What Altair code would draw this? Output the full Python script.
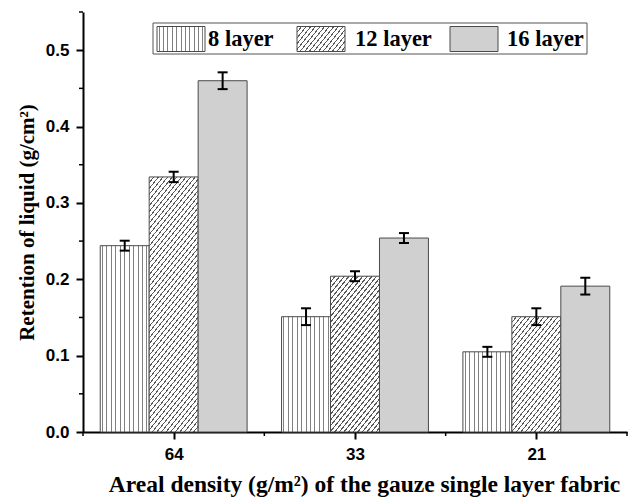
import altair as alt
import pandas as pd

# ---------------- data ----------------
densities = ["64", "33", "21"]
series = ["8 layer", "12 layer", "16 layer"]
vals_8 = [0.244, 0.151, 0.105]
vals_12 = [0.334, 0.204, 0.151]
vals_16 = [0.460, 0.254, 0.191]
err_8 = [0.0065, 0.011, 0.0065]
err_12 = [0.0068, 0.0065, 0.011]
err_16 = [0.011, 0.0065, 0.011]
y_major = [0.0, 0.1, 0.2, 0.3, 0.4, 0.5]
y_minor = [0.05, 0.15, 0.25, 0.35, 0.45, 0.55]
x_minor = [0.5, 1.5, 2.5, 3.5]

# ---------------- layout ----------------
W, H = 544, 420
X_DOM = [0.5, 3.5]
Y_DOM = [0.0, 0.55]
BAR_W = 0.27          # in group units
CAP_HALF = 5 / (W / (X_DOM[1] - X_DOM[0]))
PX_PER_Y = H / (Y_DOM[1] - Y_DOM[0])
BAR_PX = BAR_W * W / (X_DOM[1] - X_DOM[0])

SERIF = "Liberation Serif"
SANS = "Liberation Sans"
EDGE = "#4a4a4a"

rows = []
for s_i, (name, vals, errs) in enumerate(zip(series, [vals_8, vals_12, vals_16], [err_8, err_12, err_16])):
    for g_i, (d, v, e) in enumerate(zip(densities, vals, errs)):
        c = g_i + 1 + (s_i - 1) * BAR_W
        rows.append(dict(series=name, density=d, value=v, err=e, c=c,
                         x0=c - BAR_W / 2, x1=c + BAR_W / 2,
                         lo=v - e, hi=v + e, cl=c - CAP_HALF, cr=c + CAP_HALF))
df = pd.DataFrame(rows)

xs = alt.Scale(domain=X_DOM, nice=False, zero=False)
ys = alt.Scale(domain=Y_DOM, nice=False, zero=False)


def vstripes(w_px, period=4.45, lw=1.0, bg="#ffffff", fg="#808080"):
    n = max(1, round(w_px / period))
    d = lw / w_px / 2
    stops = [{"offset": 0, "color": bg}]
    for k in range(n):
        a = (k + 0.5) / n
        stops += [{"offset": a - d, "color": bg}, {"offset": a - d, "color": fg},
                  {"offset": a + d, "color": fg}, {"offset": a + d, "color": bg}]
    stops.append({"offset": 1, "color": bg})
    return {"gradient": "linear", "x1": 0, "y1": 0, "x2": 1, "y2": 0, "stops": stops}


def dstripes(w_px, h_px, s=1.25, dx=4.6, lw=1.0, bg="#ffffff", fg="#5a5a5a"):
    total = s * w_px + h_px
    lam = total / (s * s * w_px * w_px + h_px * h_px)
    a, b = lam * s * w_px, lam * h_px
    pf = s * dx
    df_ = lw * (s * s + 1) ** 0.5 / total / 2
    stops = [{"offset": 0, "color": bg}]
    k = 1
    while k * pf < total:
        t = k * pf / total
        stops += [{"offset": max(0, t - df_), "color": bg}, {"offset": max(0, t - df_), "color": fg},
                  {"offset": min(1, t + df_), "color": fg}, {"offset": min(1, t + df_), "color": bg}]
        k += 1
    stops.append({"offset": 1, "color": bg})
    return {"gradient": "linear", "x1": 0, "y1": 0, "x2": a, "y2": b, "stops": stops}


DOT = "#d0d0d0"

base = alt.Chart(df)

label_expr = "[" + ",".join("'" + d + "'" for d in densities) + "][round(datum.value) - 1]"

x_axis = alt.Axis(values=[1, 2, 3], labelExpr=label_expr, title="Areal density (g/m²) of the gauze single layer fabric",
                  labelFont=SANS, labelFontWeight="bold", labelFontSize=17, labelColor="black", labelPadding=7,
                  tickSize=7, tickWidth=2, tickColor="black", domainColor="black", domainWidth=2,
                  titleFont=SERIF, titleFontWeight="bold", titleFontSize=23.5, titleColor="black", titlePadding=10,
                  titleX=281, grid=False)
y_axis = alt.Axis(values=y_major, format=".1f", title="Retention of liquid (g/cm²)",
                  labelFont=SANS, labelFontWeight="bold", labelFontSize=17, labelColor="black", labelPadding=7,
                  tickSize=7, tickWidth=2, tickColor="black", domainColor="black", domainWidth=2,
                  titleFont=SERIF, titleFontWeight="bold", titleFontSize=21, titleColor="black", titlePadding=8,
                  grid=False)


def X(field):
    return alt.X(field, type="quantitative", scale=xs, axis=x_axis)


def Y(field):
    return alt.Y(field, type="quantitative", scale=ys, axis=y_axis)


layers = []

# 8 layer bars (vertical stripes)
layers.append(base.transform_filter(alt.datum.series == series[0]).mark_bar(
    fill=vstripes(BAR_PX), stroke=EDGE, strokeWidth=1).encode(
    x=X("x0"), x2="x1", y=Y("value"), y2=alt.datum(0)))

# 12 layer bars (diagonal hatch), one layer per bar
for g_i, d in enumerate(densities):
    h_px = vals_12[g_i] * PX_PER_Y
    layers.append(base.transform_filter(
        (alt.datum.series == series[1]) & (alt.datum.density == d)).mark_bar(
        fill=dstripes(BAR_PX, h_px), stroke=EDGE, strokeWidth=1).encode(
        x=X("x0"), x2="x1", y=Y("value"), y2=alt.datum(0)))

# 16 layer bars (dotted grey)
layers.append(base.transform_filter(alt.datum.series == series[2]).mark_bar(
    fill=DOT, stroke=EDGE, strokeWidth=1).encode(
    x=X("x0"), x2="x1", y=Y("value"), y2=alt.datum(0)))

# error bars
layers.append(base.mark_rule(color="black", strokeWidth=2).encode(
    x=X("c"), y=Y("lo"), y2="hi"))
layers.append(base.mark_rule(color="black", strokeWidth=2).encode(
    x=X("cl"), x2="cr", y=Y("lo")))
layers.append(base.mark_rule(color="black", strokeWidth=2).encode(
    x=X("cl"), x2="cr", y=Y("hi")))

# minor ticks
minor_y = pd.DataFrame({"v": y_minor})
layers.append(alt.Chart(minor_y).mark_rule(color="black", strokeWidth=1.5).encode(
    y=Y("v"), x=alt.value(0), x2=alt.value(-4)))
minor_x = pd.DataFrame({"v": x_minor})
layers.append(alt.Chart(minor_x).mark_rule(color="black", strokeWidth=1.5).encode(
    x=X("v"), y=alt.value(H), y2=alt.value(H + 4)))

# legend (pixel layout relative to the plot area)
one = pd.DataFrame({"a": [0]})
LEG_BOX = (70, 11, 504, 42)
layers.append(alt.Chart(one).mark_rect(fill="white", stroke="#555555", strokeWidth=1).encode(
    x=alt.value(LEG_BOX[0]), x2=alt.value(LEG_BOX[2]), y=alt.value(LEG_BOX[1]), y2=alt.value(LEG_BOX[3])))
sw_x = [74, 214, 367]
txt_x = [125, 272, 424]
sw_w, sw_top, sw_bot = 48, 14.5, 39.5
fills = [vstripes(sw_w), dstripes(sw_w, sw_bot - sw_top), DOT]
for i, name in enumerate(series):
    layers.append(alt.Chart(one).mark_rect(fill=fills[i], stroke=EDGE, strokeWidth=1).encode(
        x=alt.value(sw_x[i]), x2=alt.value(sw_x[i] + sw_w), y=alt.value(sw_top), y2=alt.value(sw_bot)))
    layers.append(alt.Chart(one).mark_text(text=name, align="left", baseline="middle", font=SERIF,
                                           fontWeight="bold", fontSize=22.5, color="black").encode(
        x=alt.value(txt_x[i]), y=alt.value(27)))

chart = alt.layer(*layers).properties(
    width=W, height=H,
    padding={"left": 83, "top": 12, "right": 5, "bottom": 67},
    autosize=alt.AutoSizeParams(type="none"),
    background="white",
).configure_view(stroke=None)

chart.save("out.html", embed_options={"renderer": "svg", "actions": False})
